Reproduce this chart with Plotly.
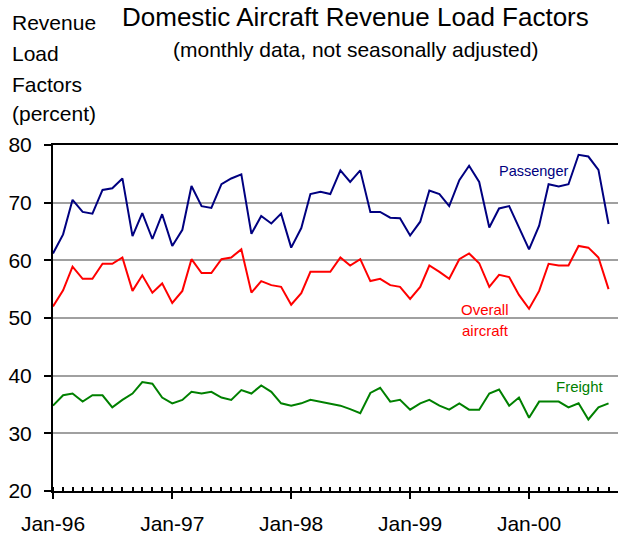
import pandas as pd
import plotly.graph_objects as go

# monthly observations, Jan-96 .. Sep-00
months = pd.date_range("1996-01-01", periods=57, freq="MS")

passenger = [61.2, 64.5, 70.5, 68.4, 68.1, 72.2, 72.5, 74.2, 64.2, 68.2, 63.7, 68.0,
             62.5, 65.3, 72.9, 69.4, 69.1, 73.2, 74.2, 74.9, 64.6, 67.7, 66.4, 68.1,
             62.2, 65.6, 71.5, 71.9, 71.5, 75.6, 73.6, 75.6, 68.4, 68.4, 67.4, 67.3,
             64.3, 66.7, 72.1, 71.5, 69.4, 73.9, 76.4, 73.6, 65.7, 69.0, 69.4, 65.6,
             61.9, 66.0, 73.2, 72.8, 73.2, 78.3, 78.0, 75.7, 66.3]

overall = [52.0, 54.8, 58.9, 56.8, 56.8, 59.4, 59.4, 60.5, 54.7, 57.4, 54.4, 56.0,
           52.6, 54.7, 60.2, 57.8, 57.8, 60.2, 60.5, 61.9, 54.4, 56.4, 55.7, 55.4,
           52.3, 54.3, 58.0, 58.0, 58.0, 60.5, 59.1, 60.2, 56.4, 56.8, 55.7, 55.4,
           53.3, 55.4, 59.1, 58.0, 56.8, 60.2, 61.2, 59.5, 55.4, 57.5, 57.1, 54.0,
           51.6, 54.7, 59.4, 59.1, 59.1, 62.5, 62.2, 60.5, 55.0]

freight = [34.8, 36.6, 36.9, 35.5, 36.6, 36.6, 34.5, 35.8, 36.9, 38.9, 38.6, 36.2,
           35.2, 35.8, 37.2, 36.9, 37.2, 36.2, 35.8, 37.5, 36.9, 38.3, 37.2, 35.2,
           34.8, 35.2, 35.8, 35.5, 35.2, 34.8, 34.2, 33.5, 37.0, 37.9, 35.5, 35.8,
           34.1, 35.2, 35.8, 34.8, 34.1, 35.2, 34.1, 34.1, 36.9, 37.6, 34.8, 36.2,
           32.7, 35.5, 35.5, 35.5, 34.5, 35.2, 32.4, 34.5, 35.2]

y_ticks = [20, 30, 40, 50, 60, 70, 80]
y_label_lines = ["Revenue", "Load", "Factors", "(percent)"]

NAVY = "#000080"
RED = "#ff0000"
GREEN = "#008000"
FONT = "Arial, Liberation Sans, sans-serif"

fig = go.Figure()
for name, vals, color in [("Passenger", passenger, NAVY),
                          ("Overall aircraft", overall, RED),
                          ("Freight", freight, GREEN)]:
    fig.add_trace(go.Scatter(x=months, y=vals, name=name, mode="lines",
                             line=dict(color=color, width=2)))

fig.update_layout(
    width=618, height=536,
    margin=dict(l=53, r=0, t=145, b=45),
    paper_bgcolor="white", plot_bgcolor="white",
    showlegend=False,
    font=dict(family=FONT, color="black"),
)

fig.update_xaxes(
    type="date",
    range=["1996-01-01", "2000-09-30"],
    tick0="1996-01-01", dtick="M12", tickformat="%b-%y",
    ticks="outside", ticklen=6, tickwidth=2, tickcolor="black",
    tickfont=dict(size=21), ticklabelstandoff=7, automargin=False,
    showline=True, linecolor="black", linewidth=2, mirror=True,
    showgrid=False, zeroline=False,
    minor=dict(dtick="M1", ticks="inside", ticklen=4, tickwidth=1.5,
               tickcolor="black", showgrid=False),
)
fig.update_yaxes(
    range=[20, 80], tickvals=y_ticks,
    ticks="outside", ticklen=7, tickwidth=2, tickcolor="black",
    tickfont=dict(size=21), ticklabelstandoff=8, automargin=False,
    showline=True, linecolor="black", linewidth=2,
    showgrid=True, gridcolor="#a0a0a0", gridwidth=1.5, zeroline=False,
)


def note(text, x, y, size, color="black", xanchor="center"):
    fig.add_annotation(text=text, xref="paper", yref="paper", x=x, y=y,
                       xanchor=xanchor, yanchor="middle", showarrow=False,
                       font=dict(size=size, color=color))


# titles and labels (positions in paper units of the 565x346 plot area)
note("Domestic Aircraft Revenue Load Factors", 0.535, 1.371, 26)
note("(monthly data, not seasonally adjusted)", 0.536, 1.275, 21)
for line, ypos in zip(y_label_lines, [1.3535, 1.265, 1.1754, 1.0916]):
    note(line, -0.076, ypos, 21, xanchor="left")

note("Passenger", 0.851, 0.926, 14.5, NAVY)
note("Overall", 0.765, 0.526, 15, RED)
note("aircraft", 0.765, 0.463, 15, RED)
note("Freight", 0.932, 0.301, 15, GREEN)

# drop the default 8px page margin so the figure fills the window
fig.write_html("out.html", config={"displayModeBar": False},
               post_script="document.body.style.margin = '0';")
